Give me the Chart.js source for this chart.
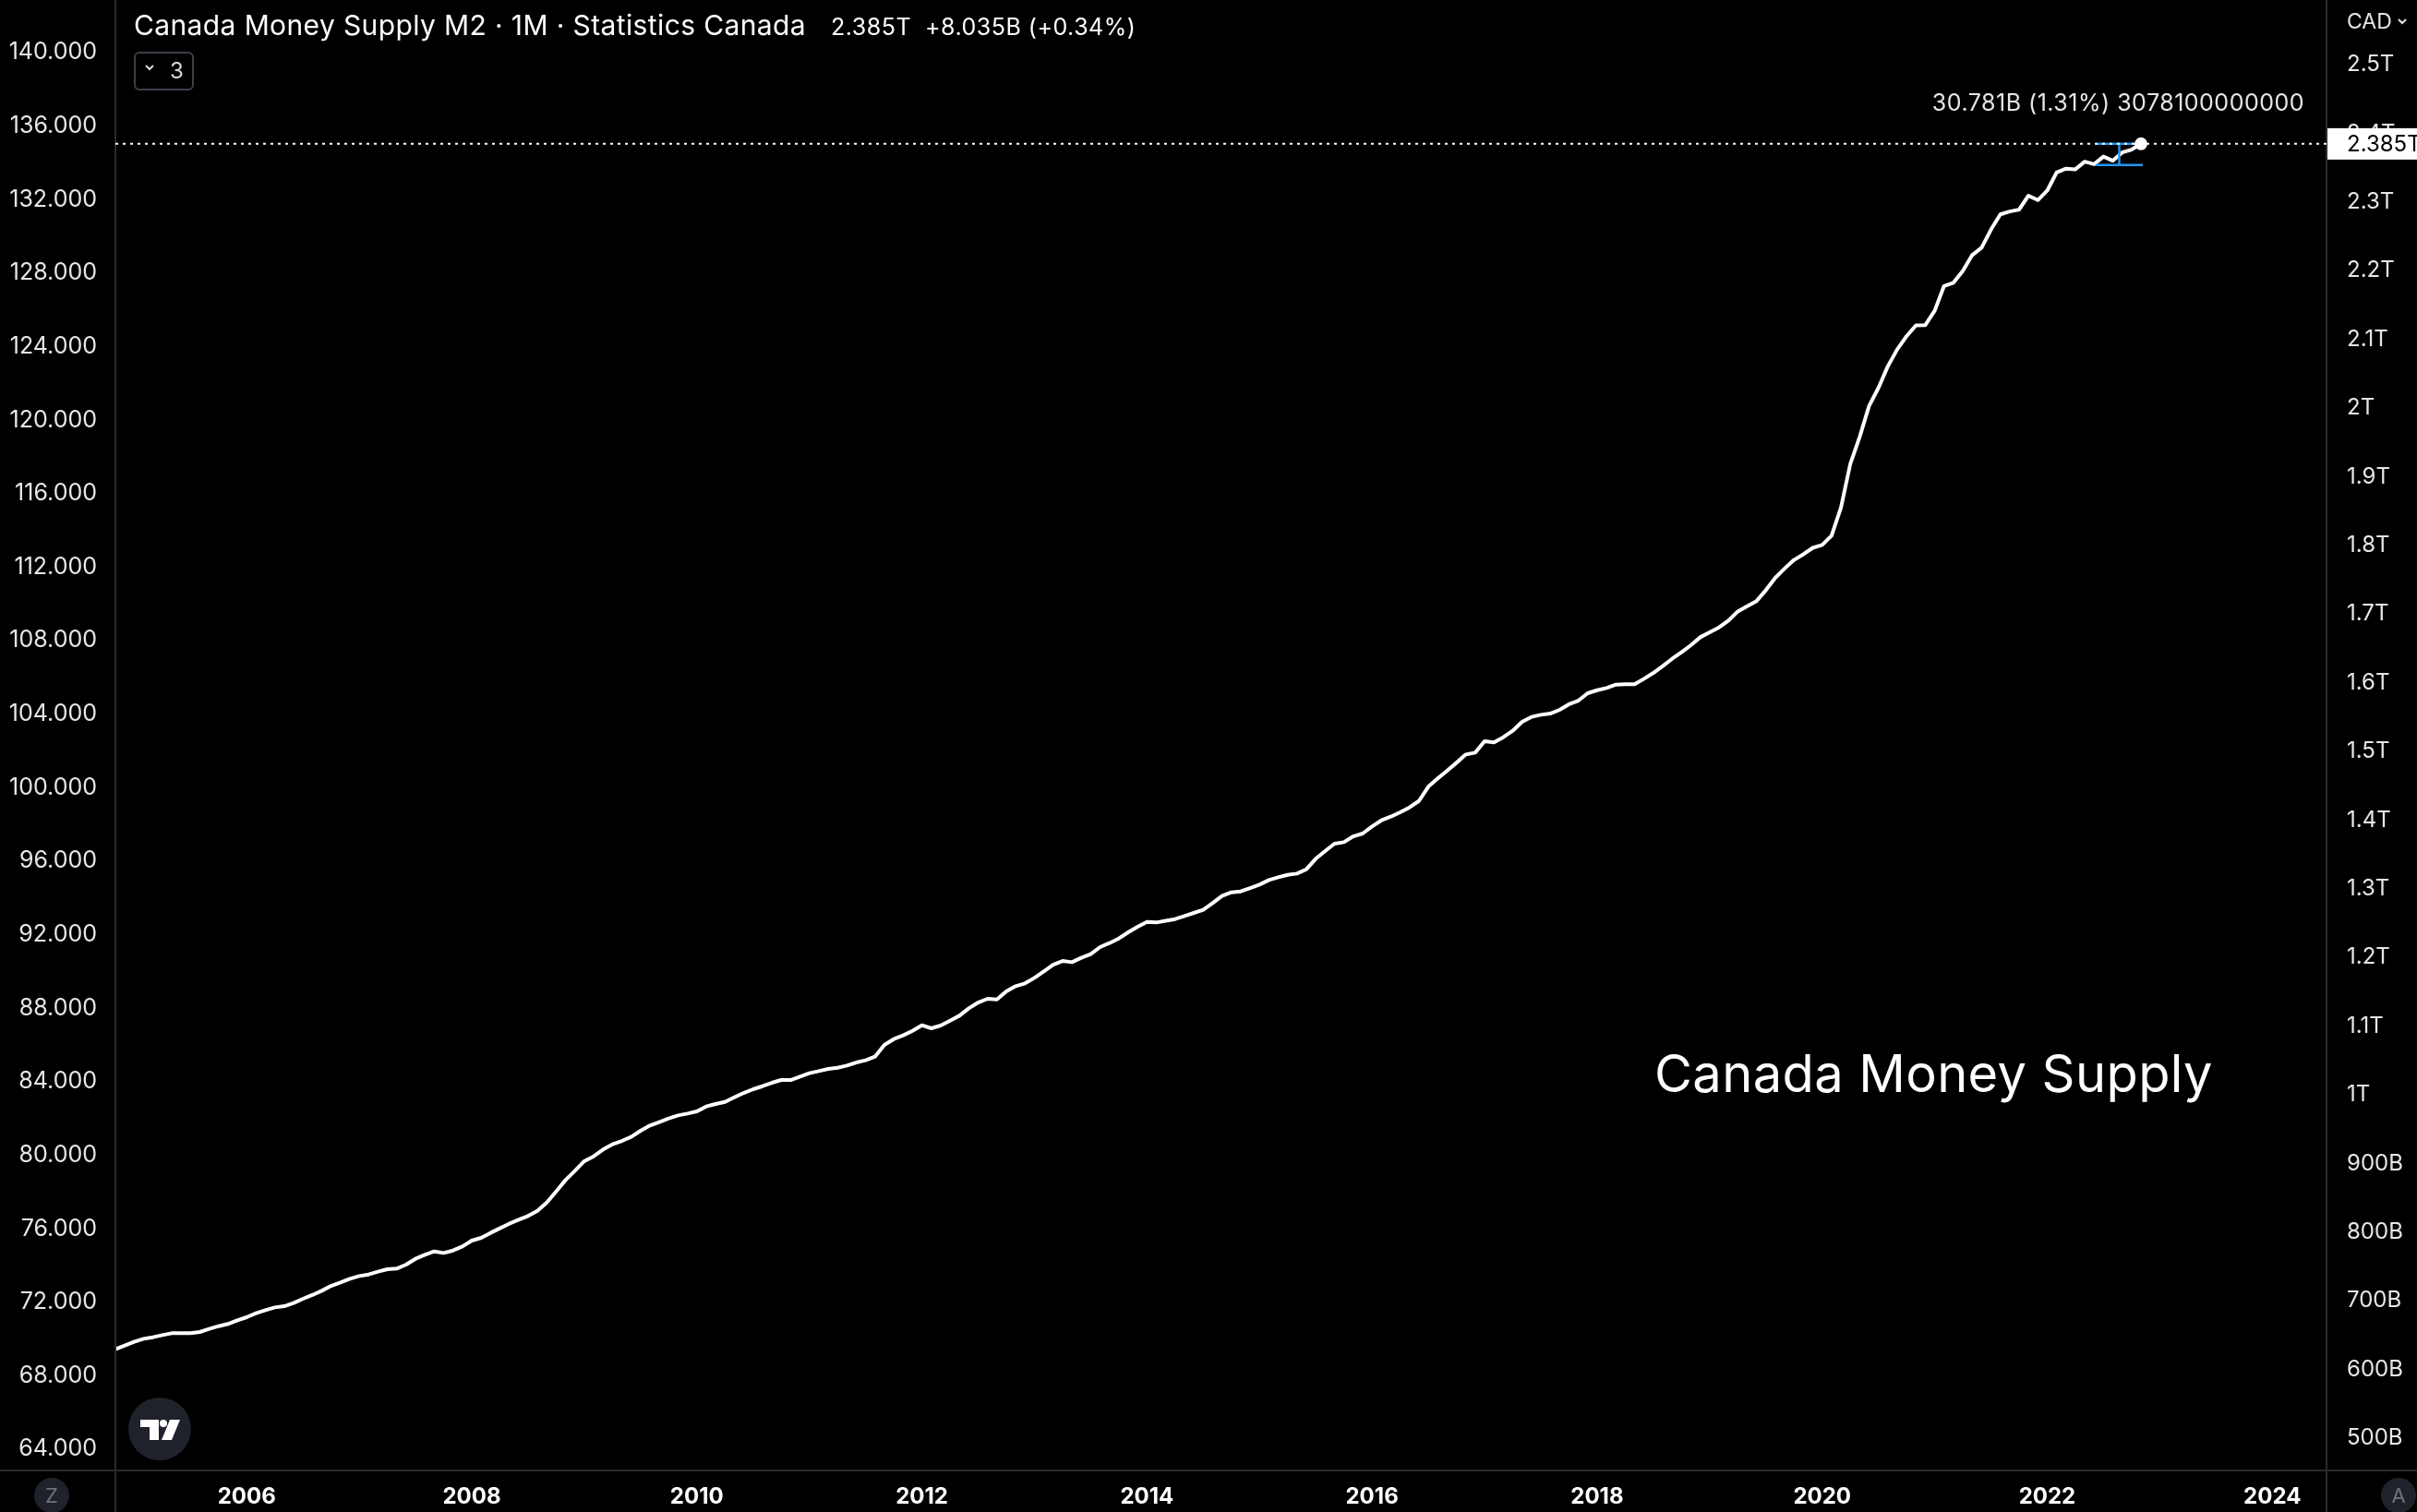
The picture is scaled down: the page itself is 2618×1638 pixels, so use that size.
<!DOCTYPE html>
<html>
<head>
<meta charset="utf-8">
<title>Canada Money Supply M2</title>
<script src="https://cdn.jsdelivr.net/npm/chart.js@4.4.1/dist/chart.umd.min.js"></script>
<style>
    html, body { margin: 0; padding: 0; background: #000; }
    canvas { display: block; }
</style>
</head>
<body>
<canvas id="m2Chart" width="2618" height="1638"></canvas>
<script>
/* ============================================
   Canada Money Supply M2 — monthly, CAD
   ============================================ */

const startYear = 2004;
const startMonth = 11;   // first observation: Nov 2004

// M2 in CAD trillions, one value per month (Nov 2004 – Nov 2022)
const m2Values = [
    0.6295, 0.6349,
    0.6403, 0.6447, 0.6470, 0.6501, 0.6528, 0.6528, 0.6528, 0.6546, 0.6591, 0.6631, 0.6663, 0.6716,
    0.6761, 0.6819, 0.6864, 0.6904, 0.6922, 0.6967, 0.7030, 0.7084, 0.7146, 0.7218, 0.7267, 0.7321,
    0.7361, 0.7384, 0.7424, 0.7460, 0.7469, 0.7527, 0.7612, 0.7670, 0.7720, 0.7697, 0.7733, 0.7791,
    0.7877, 0.7917, 0.7989, 0.8056, 0.8123, 0.8181, 0.8235, 0.8311, 0.8432, 0.8593, 0.8759, 0.8894,
    0.9033, 0.9104, 0.9203, 0.9279, 0.9328, 0.9387, 0.9476, 0.9552, 0.9602, 0.9655, 0.9700, 0.9727,
    0.9758, 0.9830, 0.9866, 0.9897, 0.9964, 1.0027, 1.0081, 1.0125, 1.0175, 1.0215, 1.0215, 1.0264,
    1.0314, 1.0345, 1.0376, 1.0394, 1.0426, 1.0470, 1.0502, 1.0556, 1.0726, 1.0811, 1.0865, 1.0932,
    1.1013, 1.0968, 1.1008, 1.1080, 1.1151, 1.1259, 1.1344, 1.1398, 1.1389, 1.1505, 1.1582, 1.1622,
    1.1702, 1.1797, 1.1895, 1.1949, 1.1931, 1.1994, 1.2048, 1.2151, 1.2209, 1.2276, 1.2366, 1.2446,
    1.2518, 1.2509, 1.2535, 1.2558, 1.2603, 1.2648, 1.2693, 1.2791, 1.2894, 1.2948, 1.2961, 1.3011,
    1.3060, 1.3127, 1.3168, 1.3203, 1.3221, 1.3284, 1.3437, 1.3548, 1.3656, 1.3678, 1.3763, 1.3804,
    1.3907, 1.3996, 1.4050, 1.4113, 1.4185, 1.4278, 1.4485, 1.4606, 1.4718, 1.4834, 1.4955, 1.4982,
    1.5148, 1.5130, 1.5206, 1.5300, 1.5430, 1.5502, 1.5533, 1.5551, 1.5605, 1.5686, 1.5739, 1.5847,
    1.5891, 1.5923, 1.5972, 1.5977, 1.5977, 1.6057, 1.6142, 1.6241, 1.6348, 1.6443, 1.6546, 1.6662,
    1.6734, 1.6805, 1.6904, 1.7038, 1.7114, 1.7189, 1.7348, 1.7527, 1.7663, 1.7788, 1.7871, 1.7964,
    1.8005, 1.8140, 1.8547, 1.9186, 1.9579, 2.0028, 2.0292, 2.0607, 2.0852, 2.1046, 2.1204, 2.1208,
    2.1417, 2.1777, 2.1824, 2.1995, 2.2227, 2.2333, 2.2597, 2.2819, 2.2861, 2.2888, 2.3092, 2.3027,
    2.3166, 2.3430, 2.3485, 2.3476, 2.3587, 2.3550, 2.3661, 2.3601, 2.3721, 2.3763, 2.3846
];

const xTickYears = [2006, 2008, 2010, 2012, 2014, 2016, 2018, 2020, 2022, 2024];
const leftTicks = [64, 68, 72, 76, 80, 84, 88, 92, 96, 100, 104, 108, 112, 116, 120, 124, 128, 132, 136, 140];
const rightTicks = [0.5, 0.6, 0.7, 0.8, 0.9, 1.0, 1.1, 1.2, 1.3, 1.4, 1.5, 1.6, 1.7, 1.8, 1.9, 2.0, 2.1, 2.2, 2.3, 2.4, 2.5];
const rightTickLabels = ['500B', '600B', '700B', '800B', '900B', '1T', '1.1T', '1.2T', '1.3T', '1.4T', '1.5T',
    '1.6T', '1.7T', '1.8T', '1.9T', '2T', '2.1T', '2.2T', '2.3T', '2.4T', '2.5T'];

// price-range measurement drawn at the end of the series
const measureRange = 0.030781;            // T
const measureFrom = 2022.433;
const measureMid = 2022.64;
const measureTo = 2022.85;
const measureText = '30.781B (1.31%) 3078100000000';

const titleText = 'Canada Money Supply M2 \u00b7 1M \u00b7 Statistics Canada';
const changeText = '+8.035B (+0.34%)';
const watermarkText = 'Canada Money Supply';

const FONT = "Inter, 'Noto Sans', sans-serif";
const W = 2618, H = 1638;

const points = m2Values.map((v, i) => ({ x: startYear + (startMonth - 1 + i) / 12, y: v }));
const lastValue = m2Values[m2Values.length - 1];

function fixWidth(w) {
    return function (scale) {
        scale.width = w;
        scale.paddingTop = 0;
        scale.paddingBottom = 0;
    };
}

function line(ctx, x1, y1, x2, y2) {
    ctx.beginPath();
    ctx.moveTo(x1, y1);
    ctx.lineTo(x2, y2);
    ctx.stroke();
}

function badge(ctx, cx, cy, r, letter) {
    ctx.fillStyle = '#1f222a';
    ctx.beginPath();
    ctx.arc(cx, cy, r, 0, Math.PI * 2);
    ctx.fill();
    ctx.fillStyle = '#6f7380';
    ctx.font = '22px ' + FONT;
    ctx.textAlign = 'center';
    ctx.textBaseline = 'middle';
    ctx.fillText(letter, cx, cy + 1);
}

const overlay = {
    id: 'overlay',
    beforeDatasetsDraw(chart) {
        const ctx = chart.ctx;
        ctx.save();
        ctx.fillStyle = '#ffffff';
        ctx.font = '56px ' + FONT;
        ctx.letterSpacing = '0.4px';
        ctx.textBaseline = 'alphabetic';
        ctx.fillText(watermarkText, 1792, 1183);
        ctx.restore();
    },
    afterDraw(chart) {
        const { ctx, chartArea: a, scales } = chart;
        const yR = scales.yRight;
        const xs = scales.x;
        const yLast = yR.getPixelForValue(lastValue);
        const yLow = yR.getPixelForValue(lastValue - measureRange);
        const xLast = xs.getPixelForValue(points[points.length - 1].x);

        ctx.save();

        // pane separators
        ctx.strokeStyle = '#2a2a2a';
        ctx.lineWidth = 2;
        line(ctx, 0, a.bottom, W, a.bottom);
        line(ctx, a.left, 0, a.left, H);
        line(ctx, a.right, 0, a.right, H);

        // measurement bracket
        ctx.strokeStyle = '#2196f3';
        ctx.lineWidth = 2.5;
        line(ctx, xs.getPixelForValue(measureFrom), yLow, xs.getPixelForValue(measureTo), yLow);
        line(ctx, xs.getPixelForValue(measureFrom), yLast, xs.getPixelForValue(measureTo) - 5, yLast);
        line(ctx, xs.getPixelForValue(measureMid), yLast, xs.getPixelForValue(measureMid), yLow);

        // dotted last-value line
        ctx.strokeStyle = '#ffffff';
        ctx.lineWidth = 2;
        ctx.setLineDash([3, 5]);
        line(ctx, a.left, yLast, a.right, yLast);
        ctx.setLineDash([]);

        // last point marker
        ctx.fillStyle = '#ffffff';
        ctx.beginPath();
        ctx.arc(xLast, yLast, 7, 0, Math.PI * 2);
        ctx.fill();

        // measurement label
        ctx.font = '25px ' + FONT;
        ctx.letterSpacing = '0.5px';
        ctx.fillStyle = '#e6e6e6';
        ctx.textAlign = 'right';
        ctx.textBaseline = 'middle';
        ctx.fillText(measureText, 2496, 112);
        ctx.letterSpacing = '0px';

        // last-value tag on the price scale
        ctx.fillStyle = '#ffffff';
        ctx.fillRect(a.right + 1, yLast - 17, W - a.right, 34);
        ctx.fillStyle = '#000000';
        ctx.textAlign = 'left';
        ctx.font = '24px ' + FONT;
        ctx.fillText(lastValue.toFixed(3) + 'T', 2542, yLast + 1);

        // currency selector
        ctx.fillStyle = '#e6e6e6';
        ctx.font = '23px ' + FONT;
        ctx.fillText('CAD', 2542, 24);
        ctx.strokeStyle = '#e6e6e6';
        ctx.lineWidth = 2;
        ctx.beginPath();
        ctx.moveTo(2598, 21); ctx.lineTo(2602, 25); ctx.lineTo(2606, 21);
        ctx.stroke();

        // header
        ctx.fillStyle = '#ffffff';
        ctx.textBaseline = 'alphabetic';
        ctx.font = '30px ' + FONT;
        ctx.letterSpacing = '0.38px';
        ctx.fillText(titleText, 145, 38);
        ctx.font = '25px ' + FONT;
        ctx.letterSpacing = '0.5px';
        ctx.fillText(lastValue.toFixed(3) + 'T', 900, 38);
        ctx.fillText(changeText, 1002, 38);
        ctx.letterSpacing = '0px';

        // collapsed indicators button
        ctx.strokeStyle = '#3c3f48';
        ctx.lineWidth = 2;
        ctx.beginPath();
        ctx.roundRect(146, 57, 63, 40, 5);
        ctx.stroke();
        ctx.strokeStyle = '#d8d8d8';
        ctx.beginPath();
        ctx.moveTo(158, 71); ctx.lineTo(162, 75); ctx.lineTo(166, 71);
        ctx.stroke();
        ctx.fillStyle = '#d8d8d8';
        ctx.font = '24px ' + FONT;
        ctx.textBaseline = 'middle';
        ctx.fillText('3', 184, 78);

        // logo
        ctx.fillStyle = '#1f222a';
        ctx.beginPath();
        ctx.arc(173, 1548, 34, 0, Math.PI * 2);
        ctx.fill();
        ctx.fillStyle = '#ffffff';
        ctx.fillRect(152, 1538, 20, 8);
        ctx.fillRect(162, 1538, 10, 22);
        ctx.beginPath();
        ctx.arc(177, 1542, 4, 0, Math.PI * 2);
        ctx.fill();
        ctx.beginPath();
        ctx.moveTo(184, 1538); ctx.lineTo(195, 1538); ctx.lineTo(186, 1560); ctx.lineTo(175, 1560);
        ctx.closePath();
        ctx.fill();

        badge(ctx, 56, 1620, 19, 'Z');
        badge(ctx, 2598, 1620, 19, 'A');

        ctx.restore();
    }
};

new Chart(document.getElementById('m2Chart'), {
    type: 'line',
    data: {
        datasets: [{
            label: 'Canada Money Supply M2',
            data: points,
            xAxisID: 'x',
            yAxisID: 'yRight',
            borderColor: '#ffffff',
            borderWidth: 4,
            borderJoinStyle: 'round',
            pointRadius: 0,
            tension: 0
        }]
    },
    options: {
        responsive: false,
        animation: false,
        layout: { padding: 0 },
        plugins: {
            legend: { display: false },
            tooltip: { enabled: false }
        },
        scales: {
            x: {
                type: 'linear',
                position: 'bottom',
                min: 2004.8333,
                max: 2024.482,
                grid: { display: false, drawTicks: false },
                border: { display: false },
                afterBuildTicks: (s) => { s.ticks = xTickYears.map(v => ({ value: v })); },
                afterFit: (s) => { s.height = 45; s.paddingLeft = 0; s.paddingRight = 0; },
                ticks: {
                    autoSkip: false,
                    maxRotation: 0,
                    padding: 14,
                    color: '#ffffff',
                    font: { family: FONT, size: 24, weight: '700' },
                    callback: (v) => String(v)
                }
            },
            yLeft: {
                type: 'linear',
                position: 'left',
                min: 62.84,
                max: 142.86,
                grid: { display: false, drawTicks: false },
                border: { display: false },
                afterBuildTicks: (s) => { s.ticks = leftTicks.map(v => ({ value: v })); },
                afterFit: fixWidth(125),
                ticks: {
                    padding: 20,
                    color: '#e6e6e6',
                    font: { family: FONT, size: 25 },
                    callback: (v) => v.toFixed(3)
                }
            },
            yRight: {
                type: 'linear',
                position: 'right',
                min: 0.453,
                max: 2.5941,
                grid: { display: false, drawTicks: false },
                border: { display: false },
                afterBuildTicks: (s) => { s.ticks = rightTicks.map(v => ({ value: v })); },
                afterFit: fixWidth(98),
                ticks: {
                    padding: 22,
                    color: '#e6e6e6',
                    font: { family: FONT, size: 24 },
                    callback: (v) => rightTickLabels[rightTicks.findIndex(t => Math.abs(t - v) < 1e-6)]
                }
            }
        }
    },
    plugins: [overlay]
});
</script>
</body>
</html>
